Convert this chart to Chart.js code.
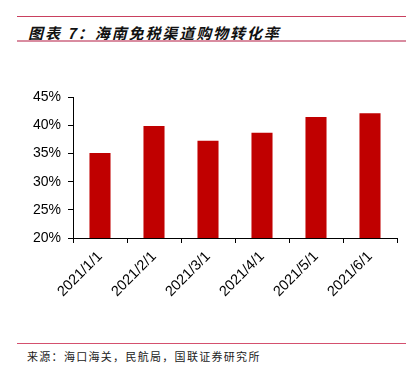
<!DOCTYPE html>
<html>
<head>
<meta charset="utf-8">
<script src="https://cdn.jsdelivr.net/npm/chart.js@4"></script>
<style>
  body { margin: 0; width: 413px; height: 374px; background: #fff; position: relative; overflow: hidden; }
  .line-top { position: absolute; left: 17px; width: 389px; top: 16px; height: 1px; background: #c9405f; }
  .title { position: absolute; left: 28px; top: 22px; font-family: "Noto Sans CJK SC", sans-serif; font-weight: bold; font-style: italic; font-size: 15px; color: #111; letter-spacing: 1.9px; }
  .line-title { position: absolute; left: 17px; width: 389px; top: 40px; height: 2px; background: #d98ca0; }
  .chart-box { position: absolute; left: 0; top: 82px; width: 413px; height: 236px; }
  .line-foot { position: absolute; left: 17px; width: 389px; top: 343px; height: 1px; background: #d4506e; }
  .foot { position: absolute; left: 27px; top: 348px; font-family: "Noto Sans CJK SC", sans-serif; font-size: 11px; color: #222; letter-spacing: 1.3px; }
</style>
</head>
<body>
<div class="line-top"></div>
<div class="title">图表 7：海南免税渠道购物转化率</div>
<div class="line-title"></div>
<div class="chart-box"><canvas id="chart"></canvas></div>
<div class="line-foot"></div>
<div class="foot">来源：海口海关，民航局，国联证券研究所</div>
<script>
const categories = ['2021/1/1', '2021/2/1', '2021/3/1', '2021/4/1', '2021/5/1', '2021/6/1'];
const conversionRate = [35.1, 39.9, 37.3, 38.7, 41.5, 42.2];
const yTicks = [20, 25, 30, 35, 40, 45];

const ctx = document.getElementById('chart').getContext('2d');
new Chart(ctx, {
    type: 'bar',
    data: {
        labels: categories,
        datasets: [{
            data: conversionRate,
            backgroundColor: '#c00000',
            borderWidth: 0,
            categoryPercentage: 0.39,
            barPercentage: 1.0
        }]
    },
    options: {
        responsive: true,
        maintainAspectRatio: false,
        animation: false,
        layout: { padding: { top: 13, right: 16, bottom: 0, left: 0 } },
        plugins: { legend: { display: false }, tooltip: { enabled: false } },
        scales: {
            y: {
                min: yTicks[0],
                max: yTicks[yTicks.length - 1],
                afterBuildTicks: axis => { axis.ticks = yTicks.map(v => ({ value: v })); },
                afterFit: axis => { axis.width = 73; },
                border: { color: '#000', width: 1 },
                grid: { drawOnChartArea: false, color: '#000', tickLength: 5 },
                ticks: {
                    color: '#000',
                    padding: 7,
                    font: { family: 'Liberation Sans', size: 14 },
                    callback: v => v + '%'
                }
            },
            x: {
                afterFit: axis => { axis.height = 80; },
                border: { color: '#000', width: 1 },
                grid: { drawOnChartArea: false, color: '#000', tickLength: 5, offset: true },
                ticks: {
                    color: '#000',
                    maxRotation: 45,
                    minRotation: 45,
                    padding: 5,
                    font: { family: 'Liberation Sans', size: 14.5 }
                }
            }
        }
    }
});
</script>
</body>
</html>
